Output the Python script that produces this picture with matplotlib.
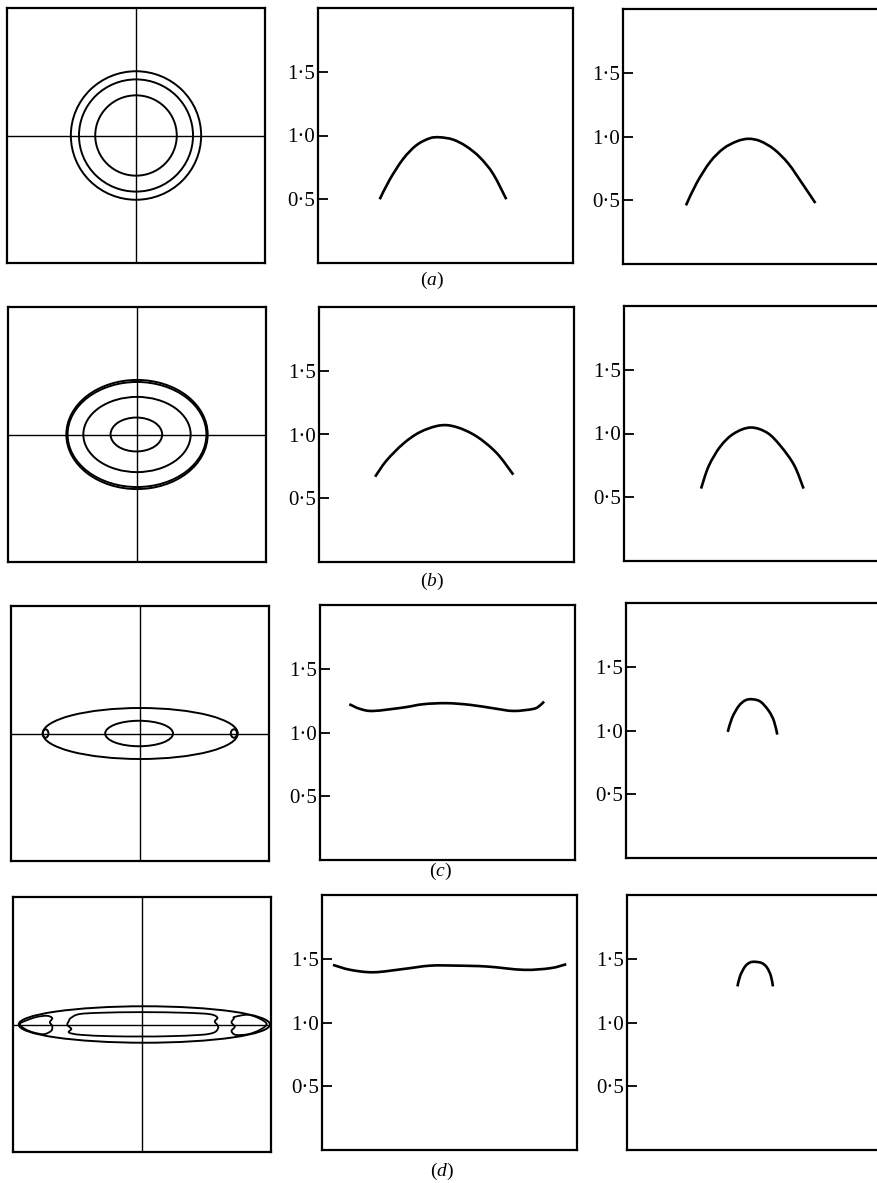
import numpy as np
import matplotlib
matplotlib.use("Agg")
import matplotlib.pyplot as plt
from matplotlib.patches import Ellipse, PathPatch
from matplotlib.path import Path

plt.rcParams['font.family'] = ['Liberation Serif', 'DejaVu Serif']
plt.rcParams['mathtext.fontset'] = 'custom'
plt.rcParams['mathtext.rm'] = 'Liberation Serif'
plt.rcParams['mathtext.it'] = 'Liberation Serif:italic'

# ---------------------------------------------------------------- data
panel_letters = ['a', 'b', 'c', 'd']
ytick_values = [0.5, 1.0, 1.5]
ytick_labels = ['0·5', '1·0', '1·5']

# contour ellipses (semi-axes, centre x) for the left-hand panels
contours_a_sx = [0.505, 0.442, 0.316]
contours_a_sy = [0.504, 0.440, 0.315]
contours_a_cx = [0.0, 0.0, 0.0]

contours_b_sx = [0.548, 0.538, 0.416, 0.200]
contours_b_sy = [0.428, 0.412, 0.295, 0.133]
contours_b_cx = [0.0, 0.0, 0.0, -0.005]

contours_c_sx = [0.756, 0.263, 0.022, 0.024]
contours_c_sy = [0.200, 0.100, 0.033, 0.033]
contours_c_cx = [0.002, -0.007, -0.732, 0.728]

contours_d_sx = [0.974]
contours_d_sy = [0.143]
contours_d_cx = [0.018]

# inner closed contours of panel (d), left
d_core_x = [-0.553, -0.488, -0.319, 0.0, 0.330, 0.525, 0.584, 0.564, 0.584,
            0.590, 0.558, 0.460, 0.200, 0.0, -0.242, -0.475, -0.566, -0.548,
            -0.579, -0.566]
d_core_y = [0.050, 0.081, 0.092, 0.097, 0.092, 0.081, 0.055, 0.024, -0.003,
            -0.029, -0.063, -0.081, -0.092, -0.094, -0.092, -0.081, -0.063,
            -0.034, -0.003, 0.029]
d_lobe_left_x = [-0.948, -0.891, -0.813, -0.735, -0.696, -0.714, -0.696,
                 -0.704, -0.761, -0.839, -0.904]
d_lobe_left_y = [0.003, 0.034, 0.060, 0.068, 0.050, 0.018, -0.013,
                 -0.050, -0.076, -0.063, -0.037]
d_lobe_right_x = [0.719, 0.823, 0.914, 0.966, 0.914, 0.823, 0.725, 0.694,
                  0.719, 0.694, 0.712]
d_lobe_right_y = [0.060, 0.076, 0.045, 0.003, -0.042, -0.076, -0.081, -0.050,
                  -0.018, 0.016, 0.047]

# profiles shown in the middle column
mid_a_x = [-0.516, -0.438, -0.333, -0.229, -0.124, -0.046, 0.059, 0.163, 0.268, 0.373, 0.477]
mid_a_y = [0.50, 0.653, 0.815, 0.923, 0.978, 0.986, 0.968, 0.915, 0.830, 0.700, 0.50]
mid_b_x = [-0.560, -0.471, -0.340, -0.209, -0.052, 0.079, 0.236, 0.393, 0.524]
mid_b_y = [0.669, 0.795, 0.927, 1.018, 1.071, 1.058, 0.985, 0.855, 0.685]
mid_c_x = [-0.770, -0.686, -0.582, -0.346, -0.190, -0.007, 0.176, 0.359, 0.516, 0.673, 0.725, 0.757]
mid_c_y = [1.222, 1.185, 1.169, 1.196, 1.222, 1.230, 1.217, 1.190, 1.169, 1.185, 1.212, 1.243]
mid_d_x = [-0.914, -0.778, -0.595, -0.359, -0.150, 0.059, 0.294, 0.582, 0.791, 0.916]
mid_d_y = [1.452, 1.413, 1.394, 1.420, 1.446, 1.446, 1.439, 1.413, 1.426, 1.457]

# profiles shown in the right column
right_a_x = [-0.508, -0.425, -0.320, -0.216, -0.111, -0.020, 0.072, 0.180, 0.290, 0.400, 0.503]
right_a_y = [0.46, 0.634, 0.800, 0.905, 0.962, 0.982, 0.964, 0.900, 0.790, 0.632, 0.478]
right_b_x = [-0.398, -0.338, -0.246, -0.141, -0.010, 0.120, 0.225, 0.330, 0.403]
right_b_y = [0.568, 0.745, 0.900, 1.000, 1.047, 1.005, 0.900, 0.750, 0.568]
right_c_x = [-0.205, -0.171, -0.119, -0.067, -0.014, 0.051, 0.116, 0.156, 0.182]
right_c_y = [0.989, 1.10, 1.192, 1.237, 1.245, 1.226, 1.153, 1.074, 0.968]
right_d_x = [-0.137, -0.116, -0.077, -0.038, 0.001, 0.054, 0.093, 0.124, 0.140]
right_d_y = [1.283, 1.366, 1.440, 1.471, 1.476, 1.466, 1.432, 1.366, 1.283]

# ---------------------------------------------------------------- layout
W, H = 877, 1183
fig = plt.figure(figsize=(W / 100, H / 100), dpi=100)

row_top = {'left': [8, 307, 606, 897], 'mid': [8, 307, 605, 895], 'right': [9, 306, 603, 895]}
col_left = {'left': [7, 8, 11, 13], 'mid': [318, 319, 320, 322], 'right': [623, 624, 626, 627]}
box_w = {'left': 258, 'mid': 255, 'right': 256}
box_h = 255
letter_pos = [(432, 280), (432, 581), (440, 871), (442, 1171)]

FRAME_LW = 1.6


def smooth_path(xs, ys, closed=False):
    """Bezier path through the given points (Catmull-Rom tangents)."""
    p = np.column_stack([xs, ys]).astype(float)
    n = len(p)
    if closed:
        idx = lambda i: p[i % n]
        segs = n
    else:
        idx = lambda i: p[min(max(i, 0), n - 1)]
        segs = n - 1
    verts = [p[0]]
    codes = [Path.MOVETO]
    for i in range(segs):
        p0, p1, p2, p3 = idx(i - 1), idx(i), idx(i + 1), idx(i + 2)
        c1 = p1 + (p2 - p0) / 6.0
        c2 = p2 - (p3 - p1) / 6.0
        verts += [c1, c2, p2]
        codes += [Path.CURVE4] * 3
    return Path(verts, codes)


def make_axes(col, r):
    x0 = col_left[col][r]
    y0 = row_top[col][r]
    w = box_w[col]
    return fig.add_axes([x0 / W, 1 - (y0 + box_h) / H, w / W, box_h / H])


def style_frame(ax):
    for s in ax.spines.values():
        s.set_linewidth(FRAME_LW)
        s.set_color('black')


left_sets = [
    (contours_a_sx, contours_a_sy, contours_a_cx),
    (contours_b_sx, contours_b_sy, contours_b_cx),
    (contours_c_sx, contours_c_sy, contours_c_cx),
    (contours_d_sx, contours_d_sy, contours_d_cx),
]
mid_sets = [(mid_a_x, mid_a_y), (mid_b_x, mid_b_y), (mid_c_x, mid_c_y), (mid_d_x, mid_d_y)]
right_sets = [(right_a_x, right_a_y), (right_b_x, right_b_y),
              (right_c_x, right_c_y), (right_d_x, right_d_y)]

for r in range(4):
    # left: contour map with cross-hair axes
    ax = make_axes('left', r)
    ax.set_xlim(-1, 1)
    ax.set_ylim(-1, 1)
    ax.set_xticks([])
    ax.set_yticks([])
    style_frame(ax)
    ax.axhline(0, color='black', lw=1.0)
    ax.axvline(0, color='black', lw=1.0)
    sx, sy, cx = left_sets[r]
    for a, b, c in zip(sx, sy, cx):
        ax.add_patch(Ellipse((c, 0), 2 * a, 2 * b, fill=False, ec='black', lw=1.4))
    if r == 3:
        for xs, ys in [(d_core_x, d_core_y), (d_lobe_left_x, d_lobe_left_y),
                       (d_lobe_right_x, d_lobe_right_y)]:
            ax.add_patch(PathPatch(smooth_path(xs, ys, closed=True), fill=False,
                                   ec='black', lw=1.3))

    # middle and right: profiles
    for col, sets in (('mid', mid_sets), ('right', right_sets)):
        ax = make_axes(col, r)
        ax.set_xlim(-1, 1)
        ax.set_ylim(0, 2)
        style_frame(ax)
        ax.set_xticks([])
        ax.set_yticks(ytick_values)
        ax.set_yticklabels(ytick_labels, fontsize=15)
        ax.tick_params(axis='y', direction='in', length=7, width=1.3, pad=2,
                       left=True, right=False)
        xs, ys = sets[r]
        ax.add_patch(PathPatch(smooth_path(xs, ys), fill=False, ec='black',
                               lw=1.9, capstyle='butt'))

    lx, ly = letter_pos[r]
    fig.text(lx / W, 1 - ly / H, r'$(\mathit{%s})$' % panel_letters[r],
             ha='center', va='center', fontsize=14)

fig.savefig('out.png', dpi=100, facecolor='white')
